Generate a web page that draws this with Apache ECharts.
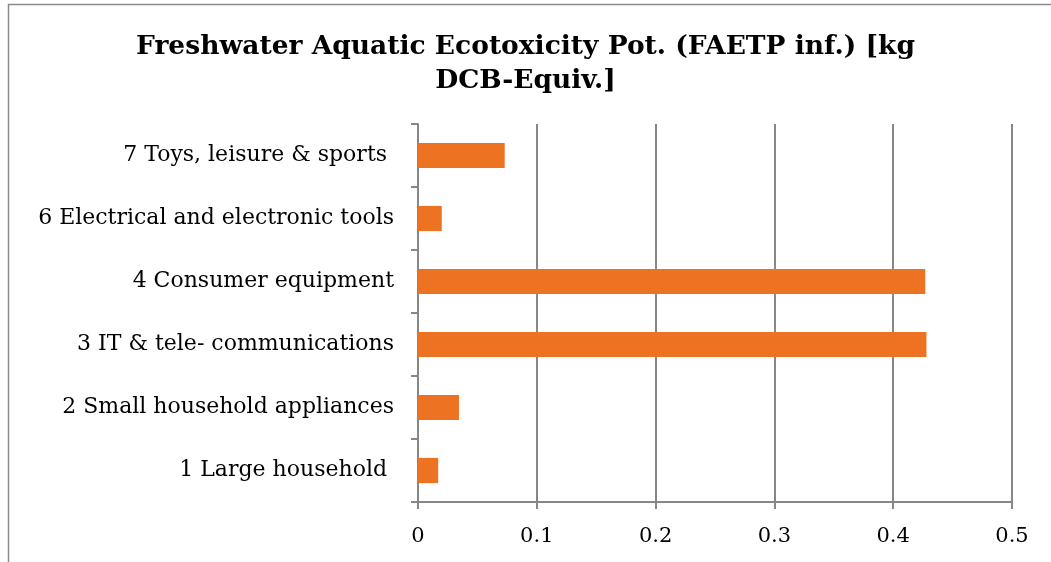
<!DOCTYPE html>
<html>
<head>
<meta charset="utf-8">
<script src="https://cdn.jsdelivr.net/npm/echarts@6/dist/echarts.min.js"></script>
<style>
  html, body { margin: 0; padding: 0; background: #fff; }
  #chart { width: 1051px; height: 562px; }
</style>
</head>
<body>
<div id="chart"></div>
<script>
// categories bottom -> top
var categories = [
  '1 Large household ',
  '2 Small household appliances',
  '3 IT & tele- communications',
  '4 Consumer equipment',
  '6 Electrical and electronic tools',
  '7 Toys, leisure & sports '
];
var values = [0.017, 0.0345, 0.428, 0.427, 0.020, 0.073];
var xTicks = [0, 0.1, 0.2, 0.3, 0.4, 0.5];

var serif = 'DejaVu Serif';
var gray = '#878787';

var chart = echarts.init(document.getElementById('chart'));
chart.setOption({
  animation: false,
  title: {
    text: 'Freshwater Aquatic Ecotoxicity Pot. (FAETP inf.) [kg\nDCB-Equiv.]',
    left: 'center',
    top: 25,
    textStyle: {
      fontFamily: serif,
      fontWeight: 'bold',
      fontSize: 26.5,
      lineHeight: 34,
      color: '#000'
    }
  },
  graphic: [{
    type: 'rect',
    shape: { x: 8.5, y: 4.5, width: 1060, height: 600 },
    style: { fill: 'none', stroke: '#8a8a8a', lineWidth: 1.5 },
    silent: true
  }],
  grid: { left: 418, right: 39, top: 124, bottom: 60 },
  xAxis: {
    type: 'value',
    min: 0,
    max: 0.5,
    interval: 0.1,
    axisLine: { show: true, lineStyle: { color: gray, width: 2 } },
    axisTick: { show: true, length: 7, lineStyle: { color: gray, width: 2 } },
    splitLine: { show: true, lineStyle: { color: gray, width: 2 } },
    axisLabel: {
      fontFamily: serif,
      fontSize: 21,
      color: '#000',
      margin: 24,
      formatter: function (v) {
        var s = String(Math.round(v * 10) / 10);
        return xTicks.indexOf(Number(s)) >= 0 ? s : '';
      }
    }
  },
  yAxis: {
    type: 'category',
    data: categories,
    axisLine: { show: true, lineStyle: { color: gray, width: 2 } },
    axisTick: { show: true, length: 7, lineStyle: { color: gray, width: 2 } },
    axisLabel: {
      fontFamily: serif,
      fontSize: 22,
      color: '#000',
      margin: 24
    }
  },
  series: [{
    type: 'bar',
    data: values,
    barWidth: '40%',
    itemStyle: { color: '#ED7322' }
  }]
});
</script>
</body>
</html>
